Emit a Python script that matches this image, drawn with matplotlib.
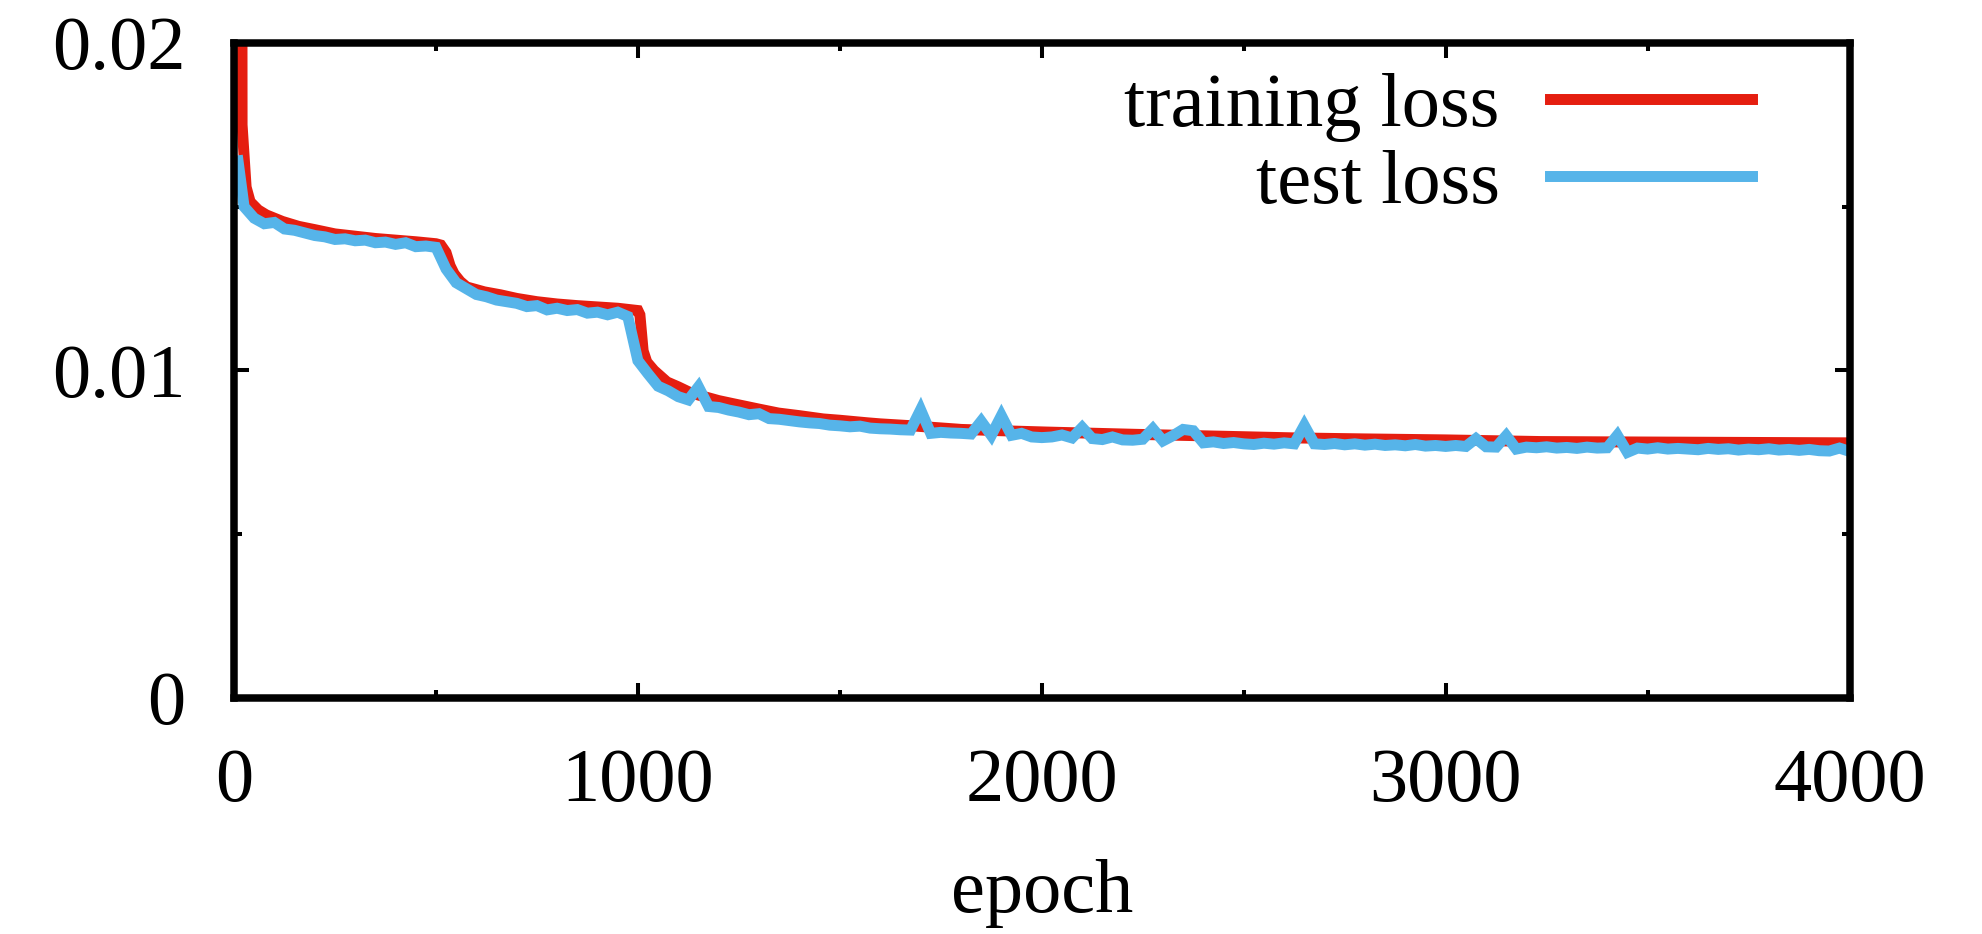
import matplotlib
matplotlib.use("Agg")
import matplotlib.pyplot as plt
from matplotlib.ticker import MultipleLocator

# training loss (smooth)
train_epoch = [1, 20, 30, 40, 60, 80, 120, 160, 200, 250, 300, 350, 400, 450, 500,
               512, 525, 535, 545, 560, 576, 620, 660, 700, 750, 800, 850, 900, 950,
               1000, 1005, 1013, 1022, 1040, 1072, 1100, 1127, 1150, 1200, 1238, 1300,
               1348, 1400, 1459, 1500, 1570, 1600, 1680, 1700, 1790, 1800, 1900, 2011,
               2233, 2454, 2630, 2800, 3000, 3234, 3400, 3600, 3800, 4000]
train_loss = [0.3, 0.0175, 0.0156, 0.01515, 0.0149, 0.01475, 0.01455, 0.0144, 0.0143,
              0.01417, 0.0141, 0.01403, 0.01398, 0.01393, 0.01387,
              0.01383, 0.0136, 0.0132, 0.01295, 0.01272, 0.01255, 0.0124, 0.01231,
              0.0122, 0.0121, 0.01203, 0.01198, 0.01194, 0.0119,
              0.01183, 0.0117, 0.0106, 0.01026, 0.0100, 0.00965, 0.0095, 0.00934,
              0.00925, 0.00908, 0.00898, 0.00882,
              0.0087, 0.00862, 0.00852, 0.00848, 0.0084, 0.00837, 0.00831, 0.00829,
              0.00821, 0.0082, 0.00816, 0.00812,
              0.00805, 0.00799, 0.00794, 0.00791, 0.00788, 0.00783, 0.00782, 0.00781,
              0.0078, 0.00779]

# test loss (noisy), one point every 25 epochs after the first
test_epoch = [10] + list(range(25, 4001, 25))
test_loss = [
    0.0164, 0.0150, 0.01465, 0.01448, 0.01452, 0.01432, 0.01428, 0.0142, 0.01412,
    0.01408, 0.0140, 0.01402, 0.01396, 0.01398, 0.0139, 0.01392, 0.01385, 0.0139,
    0.01378, 0.0138, 0.01376,
    # 525 - 1000
    0.0131, 0.01268, 0.0125, 0.01232, 0.01225, 0.01215, 0.0121, 0.01205, 0.01195,
    0.01198, 0.01185, 0.0119, 0.01183, 0.01186, 0.01175, 0.01178, 0.0117, 0.01178,
    0.01165, 0.0103,
    # 1025 - 1500
    0.0099, 0.00952, 0.00938, 0.0092, 0.0091, 0.0095, 0.0089, 0.00887, 0.00879,
    0.00873, 0.00865, 0.00868, 0.00853, 0.00851, 0.00847, 0.00843, 0.0084, 0.00838,
    0.00833, 0.00831,
    # 1525 - 2000
    0.00828, 0.0083, 0.00824, 0.00822, 0.00821, 0.00819, 0.00818, 0.0088, 0.00808,
    0.00811, 0.00809, 0.00808, 0.00806, 0.00845, 0.00802, 0.00862, 0.00802, 0.00808,
    0.00797, 0.00795,
    # 2025 - 2500
    0.00797, 0.00803, 0.00794, 0.00826, 0.00792, 0.00789, 0.00797, 0.00788, 0.00787,
    0.0079, 0.00822, 0.00785, 0.00801, 0.0082, 0.00816, 0.00779, 0.00782, 0.00777,
    0.0078, 0.00776,
    # 2525 - 3000
    0.00774, 0.00778, 0.00775, 0.00779, 0.00776, 0.00832, 0.00776, 0.00774, 0.00777,
    0.00773, 0.00776, 0.00772, 0.00775, 0.00771, 0.00773, 0.0077, 0.00774, 0.00769,
    0.00771, 0.00768,
    # 3025 - 3500
    0.00771, 0.00768, 0.00792, 0.00767, 0.00766, 0.00801, 0.0076, 0.00766, 0.00764,
    0.00767, 0.00763, 0.00765, 0.00762, 0.00766, 0.00763, 0.00764, 0.00802, 0.0075,
    0.00763, 0.0076,
    # 3525 - 4000
    0.00764, 0.0076, 0.00762, 0.0076, 0.00758, 0.00762, 0.00759, 0.00761, 0.00757,
    0.0076, 0.00758, 0.00761, 0.00757, 0.00759, 0.00756, 0.00759, 0.00755, 0.00754,
    0.00763, 0.00753,
]

RED = '#e51e10'
BLUE = '#56b4e9'

plt.rcParams['font.family'] = ['Liberation Serif', 'DejaVu Serif']
FS = 55

fig = plt.figure(figsize=(19.83, 9.34), dpi=100)
ax = fig.add_axes([0.118, 0.2527, 0.8147, 0.7013])

ax.plot(train_epoch, train_loss, color=RED, lw=7.9, label='training loss',
        solid_joinstyle='miter')
ax.plot(test_epoch, test_loss, color=BLUE, lw=7.9, label='test loss',
        solid_joinstyle='miter')

ax.set_xlim(0, 4000)
ax.set_ylim(0, 0.02)
ax.xaxis.set_major_locator(MultipleLocator(1000))
ax.xaxis.set_minor_locator(MultipleLocator(500))
ax.yaxis.set_minor_locator(MultipleLocator(0.005))
ax.set_yticks([0, 0.01, 0.02])
ax.set_yticklabels(['0', '0.01', '0.02'])

ax.tick_params(which='both', direction='in', top=True, right=True, width=2.9)
ax.tick_params(which='major', length=10.8, labelsize=FS)
ax.tick_params(which='minor', length=5.8)
ax.tick_params(axis='x', which='major', pad=36)
ax.tick_params(axis='y', which='major', pad=35)
for s in ax.spines.values():
    s.set_linewidth(5.4)

ax.set_xlabel('epoch', fontsize=FS, labelpad=30)

ax.legend(loc='upper right', bbox_to_anchor=(0.9395, 0.955), markerfirst=False,
          frameon=False, fontsize=FS, handlelength=2.64, handletextpad=0.66,
          labelspacing=0.1, borderpad=0, borderaxespad=0)

fig.savefig('out.png', dpi=100)
